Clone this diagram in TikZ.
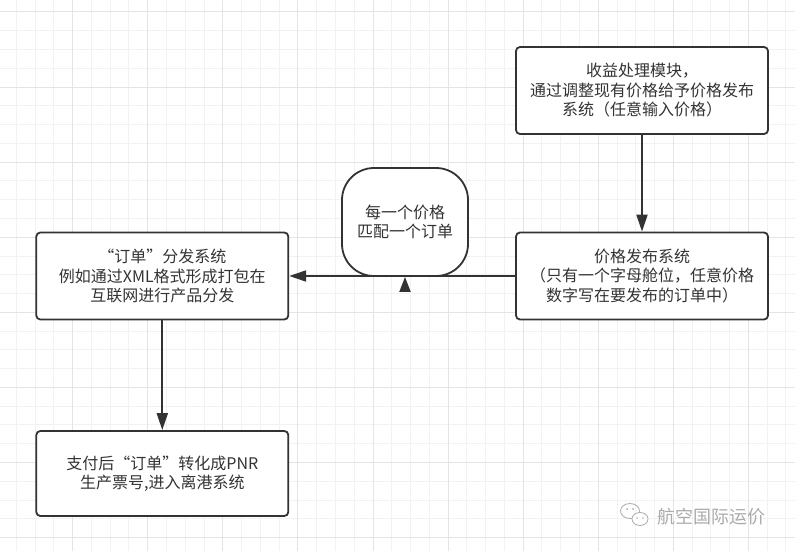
\documentclass[tikz,border=0pt]{standalone}
\usepackage{fontspec}
\setmainfont{Noto Sans CJK SC}
\usetikzlibrary{arrows.meta}
\definecolor{ink}{HTML}{333333}
\definecolor{gridminor}{HTML}{F2F2F2}
\definecolor{gridmajor}{HTML}{E4E4E4}
\definecolor{wm}{HTML}{ABABAB}
\tikzset{
  box/.style={draw=ink, line width=1.8pt, rounded corners=4pt, fill=white, text=ink,
    align=center, font=\fontsize{16}{19.5}\selectfont,
    minimum width=252pt, minimum height=87pt, inner sep=0pt},
  blob/.style={draw=ink, line width=1.8pt, rounded corners=32pt, fill=white, text=ink,
    align=center, font=\fontsize{16}{19.5}\selectfont,
    minimum width=126pt, minimum height=108pt, inner sep=0pt},
  flow/.style={draw=ink, line width=2pt, -{Triangle[length=17pt,width=11pt]}},
  minorline/.style={draw=gridminor, line width=1pt},
  majorline/.style={draw=gridmajor, line width=1pt}
}
\begin{document}
\begin{tikzpicture}[x=1pt,y=-1pt]
\useasboundingbox (0,0) rectangle (795,551);
\fill[white] (0,0) rectangle (795,551);
\begin{scope}
  \clip (0,0) rectangle (795,551);
  \foreach \i in {0,...,43} \draw[minorline] ({-2.4+18.77*\i},0) -- ++(0,551);
  \foreach \j in {0,...,29} \draw[minorline] (0,{12+18.77*\j}) -- ++(795,0);
  \foreach \i in {0,...,11} \draw[majorline] ({-2.4+75.08*\i},0) -- ++(0,551);
  \foreach \j in {0,...,7} \draw[majorline] (0,{12+75.08*\j}) -- ++(795,0);
\end{scope}

\node[box] (A) at (642,90.5) {收益处理模块，\\通过调整现有价格给予价格发布\\系统（任意输入价格）};
\node[box] (B) at (642,276) {价格发布系统\\（只有一个字母舱位，任意价格\\数字写在要发布的订单中）};
\node[box] (C) at (162.3,276) {“订单”分发系统\\例如通过XML格式形成打包在\\互联网进行产品分发};
\node[box, minimum height=85pt] (D) at (162.3,473.5) {支付后“订单”转化成PNR\\生产票号,进入离港系统};
\node[blob] (E) at (405,222) {每一个价格\\匹配一个订单};

\draw[flow] (A) -- (B);
\draw[flow] (B) -- (C);
\draw[flow] (C) -- (D);
\coordinate (Tb) at (405,292);
\draw[flow, -{Triangle[length=15pt,width=11pt]}] (Tb) -- (E.south);

% watermark
\begin{scope}[draw=wm, line width=0.8pt]
  \draw (630,511) ellipse [x radius=9.5pt, y radius=7.5pt];
  \draw[fill=white] (640,519) ellipse [x radius=8pt, y radius=6.5pt];
  \fill[wm] (627,509) circle (1pt) (633,509) circle (1pt);
  \fill[wm] (637,518) circle (0.8pt) (643,518) circle (0.8pt);
\end{scope}
\node[text=wm, font=\fontsize{18}{20}\selectfont, inner sep=0pt] (W) at (711.5,517) {航空国际运价};
\end{tikzpicture}
\end{document}
